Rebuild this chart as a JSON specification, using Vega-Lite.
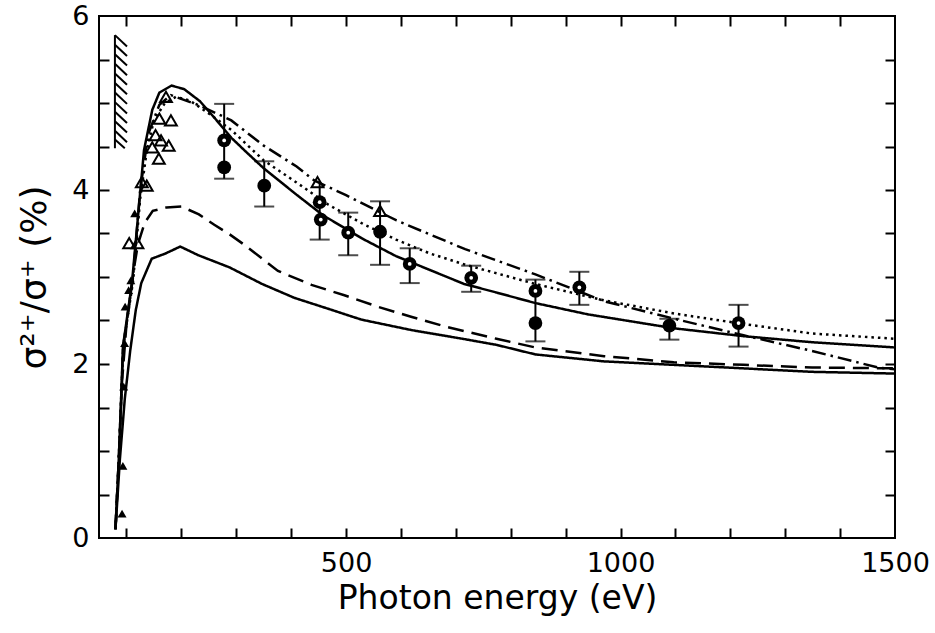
{
  "$schema": "https://vega.github.io/schema/vega-lite/v6.json",
  "width": 796,
  "height": 522,
  "autosize": {"type": "none"},
  "padding": {"left": 99, "top": 16, "right": 40, "bottom": 95},
  "background": "white",
  "config": {
    "view": {"stroke": "black", "strokeWidth": 2},
    "axis": {"labelColor": "black", "titleColor": "black", "tickColor": "black", "grid": false, "labelFont": "DejaVu Sans", "titleFont": "DejaVu Sans", "titleFontWeight": "normal", "domain": false}
  },
  "datasets": {
    "curves": [
      {"s": "upper", "E": 80, "Y": 0.1}, {"s": "upper", "E": 86, "Y": 0.9}, {"s": "upper", "E": 90, "Y": 1.55}, {"s": "upper", "E": 93.6, "Y": 2.2},
      {"s": "upper", "E": 110, "Y": 2.93}, {"s": "upper", "E": 121, "Y": 3.69}, {"s": "upper", "E": 132, "Y": 4.46}, {"s": "upper", "E": 147, "Y": 4.92},
      {"s": "upper", "E": 160, "Y": 5.12}, {"s": "upper", "E": 182, "Y": 5.2}, {"s": "upper", "E": 205, "Y": 5.16}, {"s": "upper", "E": 234, "Y": 5.02},
      {"s": "upper", "E": 263, "Y": 4.81}, {"s": "upper", "E": 291, "Y": 4.6}, {"s": "upper", "E": 321, "Y": 4.42}, {"s": "upper", "E": 350, "Y": 4.25},
      {"s": "upper", "E": 409, "Y": 3.95}, {"s": "upper", "E": 458, "Y": 3.71}, {"s": "upper", "E": 530, "Y": 3.44}, {"s": "upper", "E": 591, "Y": 3.24},
      {"s": "upper", "E": 622, "Y": 3.16}, {"s": "upper", "E": 715, "Y": 2.92}, {"s": "upper", "E": 775, "Y": 2.82}, {"s": "upper", "E": 845, "Y": 2.7},
      {"s": "upper", "E": 941, "Y": 2.57}, {"s": "upper", "E": 1098, "Y": 2.41}, {"s": "upper", "E": 1224, "Y": 2.32}, {"s": "upper", "E": 1349, "Y": 2.25},
      {"s": "upper", "E": 1500, "Y": 2.19},
      {"s": "dotted", "E": 80, "Y": 0.1}, {"s": "dotted", "E": 86, "Y": 0.9}, {"s": "dotted", "E": 90, "Y": 1.55}, {"s": "dotted", "E": 94, "Y": 2.2},
      {"s": "dotted", "E": 112, "Y": 2.95}, {"s": "dotted", "E": 125, "Y": 3.9}, {"s": "dotted", "E": 137, "Y": 4.45}, {"s": "dotted", "E": 150, "Y": 4.8},
      {"s": "dotted", "E": 170, "Y": 5.0}, {"s": "dotted", "E": 190, "Y": 5.07}, {"s": "dotted", "E": 215, "Y": 5.03}, {"s": "dotted", "E": 250, "Y": 4.88},
      {"s": "dotted", "E": 291, "Y": 4.69}, {"s": "dotted", "E": 350, "Y": 4.34}, {"s": "dotted", "E": 409, "Y": 4.09}, {"s": "dotted", "E": 468, "Y": 3.83},
      {"s": "dotted", "E": 531, "Y": 3.61}, {"s": "dotted", "E": 591, "Y": 3.43}, {"s": "dotted", "E": 653, "Y": 3.27}, {"s": "dotted", "E": 718, "Y": 3.14},
      {"s": "dotted", "E": 845, "Y": 2.92}, {"s": "dotted", "E": 971, "Y": 2.73}, {"s": "dotted", "E": 1098, "Y": 2.58}, {"s": "dotted", "E": 1224, "Y": 2.46},
      {"s": "dotted", "E": 1349, "Y": 2.35}, {"s": "dotted", "E": 1500, "Y": 2.29},
      {"s": "dashdot", "E": 80, "Y": 0.1}, {"s": "dashdot", "E": 86, "Y": 0.9}, {"s": "dashdot", "E": 90, "Y": 1.55}, {"s": "dashdot", "E": 94, "Y": 2.2},
      {"s": "dashdot", "E": 112, "Y": 3.0}, {"s": "dashdot", "E": 125, "Y": 4.0}, {"s": "dashdot", "E": 140, "Y": 4.65}, {"s": "dashdot", "E": 160, "Y": 4.98},
      {"s": "dashdot", "E": 181, "Y": 5.09}, {"s": "dashdot", "E": 234, "Y": 4.97}, {"s": "dashdot", "E": 291, "Y": 4.8}, {"s": "dashdot", "E": 350, "Y": 4.51},
      {"s": "dashdot", "E": 410, "Y": 4.27}, {"s": "dashdot", "E": 442, "Y": 4.11}, {"s": "dashdot", "E": 500, "Y": 3.94}, {"s": "dashdot", "E": 592, "Y": 3.65},
      {"s": "dashdot", "E": 717, "Y": 3.32}, {"s": "dashdot", "E": 845, "Y": 3.03}, {"s": "dashdot", "E": 971, "Y": 2.72}, {"s": "dashdot", "E": 1098, "Y": 2.52},
      {"s": "dashdot", "E": 1224, "Y": 2.33}, {"s": "dashdot", "E": 1349, "Y": 2.15}, {"s": "dashdot", "E": 1469, "Y": 1.96}, {"s": "dashdot", "E": 1500, "Y": 1.94},
      {"s": "dashed", "E": 80, "Y": 0.1}, {"s": "dashed", "E": 86, "Y": 0.9}, {"s": "dashed", "E": 92, "Y": 1.8}, {"s": "dashed", "E": 100, "Y": 2.45},
      {"s": "dashed", "E": 114, "Y": 3.11}, {"s": "dashed", "E": 121, "Y": 3.38}, {"s": "dashed", "E": 133, "Y": 3.62}, {"s": "dashed", "E": 148, "Y": 3.76},
      {"s": "dashed", "E": 173, "Y": 3.8}, {"s": "dashed", "E": 200, "Y": 3.81}, {"s": "dashed", "E": 232, "Y": 3.72}, {"s": "dashed", "E": 260, "Y": 3.6},
      {"s": "dashed", "E": 288, "Y": 3.49}, {"s": "dashed", "E": 317, "Y": 3.36}, {"s": "dashed", "E": 376, "Y": 3.07}, {"s": "dashed", "E": 437, "Y": 2.91},
      {"s": "dashed", "E": 497, "Y": 2.79}, {"s": "dashed", "E": 557, "Y": 2.66}, {"s": "dashed", "E": 620, "Y": 2.54}, {"s": "dashed", "E": 681, "Y": 2.43},
      {"s": "dashed", "E": 774, "Y": 2.29}, {"s": "dashed", "E": 845, "Y": 2.19}, {"s": "dashed", "E": 970, "Y": 2.09}, {"s": "dashed", "E": 1097, "Y": 2.02},
      {"s": "dashed", "E": 1224, "Y": 1.99}, {"s": "dashed", "E": 1349, "Y": 1.96}, {"s": "dashed", "E": 1500, "Y": 1.95},
      {"s": "lower", "E": 80, "Y": 0.1}, {"s": "lower", "E": 88, "Y": 0.9}, {"s": "lower", "E": 97, "Y": 1.6}, {"s": "lower", "E": 107, "Y": 2.16},
      {"s": "lower", "E": 117, "Y": 2.62}, {"s": "lower", "E": 127, "Y": 2.93}, {"s": "lower", "E": 146, "Y": 3.21}, {"s": "lower", "E": 171, "Y": 3.27},
      {"s": "lower", "E": 198, "Y": 3.35}, {"s": "lower", "E": 231, "Y": 3.25}, {"s": "lower", "E": 288, "Y": 3.11}, {"s": "lower", "E": 347, "Y": 2.92},
      {"s": "lower", "E": 406, "Y": 2.76}, {"s": "lower", "E": 465, "Y": 2.64}, {"s": "lower", "E": 528, "Y": 2.51}, {"s": "lower", "E": 619, "Y": 2.39},
      {"s": "lower", "E": 712, "Y": 2.29}, {"s": "lower", "E": 774, "Y": 2.22}, {"s": "lower", "E": 845, "Y": 2.11}, {"s": "lower", "E": 970, "Y": 2.03},
      {"s": "lower", "E": 1097, "Y": 1.99}, {"s": "lower", "E": 1223, "Y": 1.95}, {"s": "lower", "E": 1348, "Y": 1.91}, {"s": "lower", "E": 1500, "Y": 1.89}
    ],
    "pts": [
      {"k": "dot", "E": 278, "Y": 4.57}, {"k": "dot", "E": 452, "Y": 3.86}, {"k": "dot", "E": 454, "Y": 3.66}, {"k": "dot", "E": 504, "Y": 3.51},
      {"k": "dot", "E": 616, "Y": 3.15}, {"k": "dot", "E": 728, "Y": 2.99}, {"k": "dot", "E": 845, "Y": 2.84}, {"k": "dot", "E": 925, "Y": 2.88},
      {"k": "dot", "E": 1215, "Y": 2.47},
      {"k": "solid", "E": 278, "Y": 4.26}, {"k": "solid", "E": 351, "Y": 4.05}, {"k": "solid", "E": 562, "Y": 3.52}, {"k": "solid", "E": 845, "Y": 2.47},
      {"k": "solid", "E": 1089, "Y": 2.44}
    ],
    "tri": [
      {"k": "open", "E": 128, "Y": 4.09}, {"k": "open", "E": 137, "Y": 4.05}, {"k": "open", "E": 147, "Y": 4.49}, {"k": "open", "E": 153, "Y": 4.63},
      {"k": "open", "E": 159, "Y": 4.36}, {"k": "open", "E": 163, "Y": 4.57}, {"k": "open", "E": 177, "Y": 4.51}, {"k": "open", "E": 160, "Y": 4.82},
      {"k": "open", "E": 181, "Y": 4.8}, {"k": "open", "E": 172, "Y": 5.07}, {"k": "open", "E": 105, "Y": 3.39}, {"k": "open", "E": 120, "Y": 3.39},
      {"k": "open", "E": 448, "Y": 4.09}, {"k": "open", "E": 562, "Y": 3.76},
      {"k": "small", "E": 92, "Y": 0.28}, {"k": "small", "E": 93.5, "Y": 0.83}, {"k": "small", "E": 95, "Y": 1.74}, {"k": "small", "E": 96.6, "Y": 2.24},
      {"k": "small", "E": 97.6, "Y": 2.66}, {"k": "small", "E": 104, "Y": 2.85}, {"k": "small", "E": 108, "Y": 2.96}, {"k": "small", "E": 115, "Y": 3.73}
    ],
    "err": [
      {"E": 278, "lo": 4.13, "hi": 4.99}, {"E": 351, "lo": 3.81, "hi": 4.33}, {"E": 452, "lo": 3.43, "hi": 4.09}, {"E": 504, "lo": 3.25, "hi": 3.74},
      {"E": 562, "lo": 3.14, "hi": 3.87}, {"E": 616, "lo": 2.93, "hi": 3.33}, {"E": 728, "lo": 2.83, "hi": 3.13}, {"E": 845, "lo": 2.26, "hi": 2.97},
      {"E": 925, "lo": 2.68, "hi": 3.06}, {"E": 1089, "lo": 2.28, "hi": 2.52}, {"E": 1215, "lo": 2.2, "hi": 2.68}
    ],
    "caps": [
      {"E": 278, "Y": 4.13}, {"E": 278, "Y": 4.99}, {"E": 351, "Y": 3.81}, {"E": 351, "Y": 4.33}, {"E": 452, "Y": 3.43},
      {"E": 504, "Y": 3.25}, {"E": 504, "Y": 3.74}, {"E": 562, "Y": 3.14}, {"E": 562, "Y": 3.87}, {"E": 616, "Y": 2.93}, {"E": 616, "Y": 3.33},
      {"E": 728, "Y": 2.83}, {"E": 728, "Y": 3.13}, {"E": 845, "Y": 2.26}, {"E": 845, "Y": 2.97}, {"E": 925, "Y": 2.68}, {"E": 925, "Y": 3.06},
      {"E": 1089, "Y": 2.28}, {"E": 1089, "Y": 2.52}, {"E": 1215, "Y": 2.2}, {"E": 1215, "Y": 2.68}
    ],
    "hatch": [
      {"E": 79, "Y": 4.48, "E2": 79, "Y2": 5.78},
      {"E": 79, "Y": 5.78, "E2": 101, "Y2": 5.65}, {"E": 79, "Y": 5.67, "E2": 101, "Y2": 5.54}, {"E": 79, "Y": 5.56, "E2": 101, "Y2": 5.43},
      {"E": 79, "Y": 5.45, "E2": 101, "Y2": 5.32}, {"E": 79, "Y": 5.34, "E2": 101, "Y2": 5.21}, {"E": 79, "Y": 5.23, "E2": 101, "Y2": 5.1},
      {"E": 79, "Y": 5.12, "E2": 101, "Y2": 4.99}, {"E": 79, "Y": 5.01, "E2": 101, "Y2": 4.88}, {"E": 79, "Y": 4.9, "E2": 101, "Y2": 4.77},
      {"E": 79, "Y": 4.79, "E2": 101, "Y2": 4.66}, {"E": 79, "Y": 4.68, "E2": 101, "Y2": 4.55}, {"E": 79, "Y": 4.58, "E2": 97, "Y2": 4.48}
    ]
  },
  "layer": [
    {
      "data": {"name": "curves"},
      "mark": {"type": "line", "color": "black", "strokeWidth": 2.5},
      "encoding": {
        "x": {"field": "E", "type": "quantitative", "scale": {"domain": [50, 1500], "nice": false, "zero": false},
          "axis": {"orient": "bottom", "values": [500, 1000, 1500], "format": "d", "ticks": false, "labelFontSize": 27, "labelPadding": 12, "labelFlush": false,
            "title": "Photon energy (eV)", "titleFontSize": 33, "titlePadding": 6}},
        "y": {"field": "Y", "type": "quantitative", "scale": {"domain": [0, 6], "nice": false},
          "axis": {"orient": "left", "values": [0, 2, 4, 6], "format": "d", "ticks": false, "labelFontSize": 27, "labelPadding": 10, "labelFlush": false,
            "title": "σ²⁺/σ⁺ (%)", "titleFontSize": 36, "titlePadding": 18}},
        "strokeDash": {"field": "s", "type": "nominal", "legend": null,
          "scale": {"domain": ["upper", "lower", "dashed", "dotted", "dashdot"], "range": [[1, 0], [1, 0], [16, 8], [2.5, 4], [14, 5, 2.5, 5]]}}
      }
    },
    {
      "data": {"name": "err"},
      "mark": {"type": "rule", "color": "black", "strokeWidth": 2},
      "encoding": {
        "x": {"field": "E", "type": "quantitative", "axis": null},
        "y": {"field": "lo", "type": "quantitative", "axis": null},
        "y2": {"field": "hi"}
      }
    },
    {
      "data": {"name": "caps"},
      "mark": {"type": "tick", "orient": "horizontal", "color": "black", "size": 20, "thickness": 2},
      "encoding": {
        "x": {"field": "E", "type": "quantitative",
          "axis": {"orient": "bottom", "values": [100, 200, 300, 400, 500, 600, 700, 800, 900, 1000, 1100, 1200, 1300, 1400], "labels": false, "title": null, "tickWidth": 2, "tickSize": 10, "offset": -10}},
        "y": {"field": "Y", "type": "quantitative",
          "axis": {"orient": "left", "values": [0.5, 1, 1.5, 2, 2.5, 3, 3.5, 4, 4.5, 5, 5.5], "labels": false, "title": null, "tickWidth": 2, "tickSize": 10, "offset": -10}}
      }
    },
    {
      "data": {"name": "hatch"},
      "mark": {"type": "rule", "color": "black", "strokeWidth": 2},
      "encoding": {
        "x": {"field": "E", "type": "quantitative", "axis": null},
        "y": {"field": "Y", "type": "quantitative", "axis": null},
        "x2": {"field": "E2"},
        "y2": {"field": "Y2"}
      }
    },
    {
      "data": {"name": "pts"},
      "mark": {"type": "point", "shape": "circle", "filled": true, "color": "black", "size": 190, "opacity": 1},
      "encoding": {
        "x": {"field": "E", "type": "quantitative",
          "axis": {"orient": "top", "values": [100, 200, 300, 400, 500, 600, 700, 800, 900, 1000, 1100, 1200, 1300, 1400], "labels": false, "title": null, "tickWidth": 2, "tickSize": 10, "offset": -10}},
        "y": {"field": "Y", "type": "quantitative",
          "axis": {"orient": "right", "values": [0.5, 1, 1.5, 2, 2.5, 3, 3.5, 4, 4.5, 5, 5.5], "labels": false, "title": null, "tickWidth": 2, "tickSize": 10, "offset": -10}}
      }
    },
    {
      "data": {"name": "pts"},
      "transform": [{"filter": "datum.k === 'dot'"}],
      "mark": {"type": "point", "shape": "circle", "filled": true, "color": "white", "size": 14, "opacity": 1},
      "encoding": {
        "x": {"field": "E", "type": "quantitative", "axis": null},
        "y": {"field": "Y", "type": "quantitative", "axis": null}
      }
    },
    {
      "data": {"name": "tri"},
      "transform": [{"filter": "datum.k === 'open'"}],
      "mark": {"type": "point", "shape": "triangle-up", "filled": false, "color": "black", "strokeWidth": 2, "size": 140, "opacity": 1},
      "encoding": {
        "x": {"field": "E", "type": "quantitative", "axis": null},
        "y": {"field": "Y", "type": "quantitative", "axis": null}
      }
    },
    {
      "data": {"name": "tri"},
      "transform": [{"filter": "datum.k === 'small'"}],
      "mark": {"type": "point", "shape": "triangle-up", "filled": true, "color": "black", "size": 80, "opacity": 1},
      "encoding": {
        "x": {"field": "E", "type": "quantitative", "axis": null},
        "y": {"field": "Y", "type": "quantitative", "axis": null}
      }
    }
  ],
  "resolve": {"axis": {"x": "independent", "y": "independent"}}
}
